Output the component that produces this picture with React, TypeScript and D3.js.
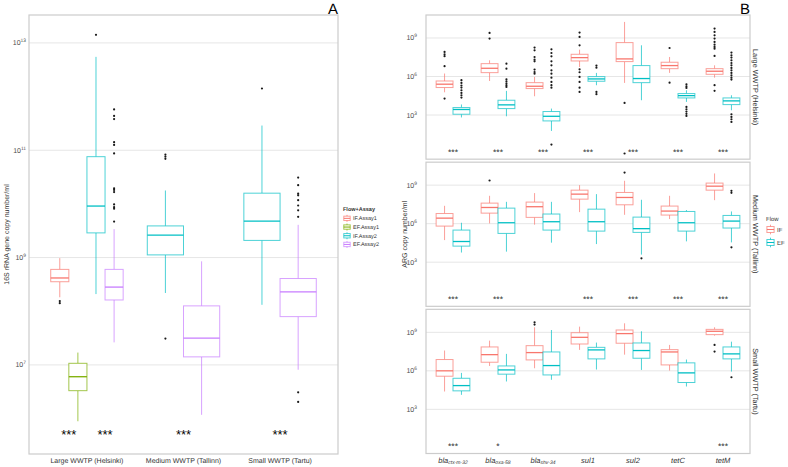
import React from "react";
import * as d3 from "d3";

const W = 788, H = 467;
const FONT = "'Liberation Sans', Arial, sans-serif";

// ---------------- Panel A data ----------------
const sitesA = ["Large WWTP (Helsinki)", "Medium WWTP (Tallinn)", "Small WWTP (Tartu)"];
const groupsA = ["IF.Assay1", "EF.Assay1", "IF.Assay2", "EF.Assay2"];
const colorsA = ["#F8766D", "#7CAE00", "#00BFC4", "#C77CFF"];
const boxSiteA = [0, 0, 0, 0, 1, 1, 2, 2];
const boxGroupA = [0, 1, 2, 3, 2, 3, 2, 3];
// log10 copies/ml: [lower whisker, q1, median, q3, upper whisker]
const statsA = [
  [8.26, 8.55, 8.62, 8.78, 8.99],
  [5.95, 6.52, 6.78, 7.03, 7.23],
  [8.32, 9.46, 9.96, 10.88, 12.74],
  [7.42, 8.21, 8.45, 8.78, 9.53],
  [8.34, 9.05, 9.42, 9.59, 10.25],
  [6.07, 7.15, 7.5, 8.1, 8.93],
  [8.12, 9.32, 9.68, 10.2, 11.46],
  [6.91, 7.9, 8.36, 8.61, 9.61],
];
const outliersA = [
  [8.19, 8.15],
  [],
  [13.15],
  [11.76, 11.64, 11.58, 11.15, 11.1, 10.94, 10.29, 10.26, 10.22, 9.99, 9.94, 9.91, 9.67],
  [10.92, 10.88, 10.84, 7.49],
  [],
  [12.15],
  [10.49, 10.35, 10.19, 10.16, 10.07, 9.97, 9.88, 9.76, 6.49, 6.31],
];
const starSiteA = [0, 0, 1, 2];
const starPairA = [[0, 1], [2, 3], [2, 3], [2, 3]];
const starTextA = ["***", "***", "***", "***"];
const starLevelA = 5.76;
const ticksA = [7, 9, 11, 13];

// ---------------- Panel B data ----------------
const sitesB = ["Large WWTP (Helsinki)", "Medium WWTP (Tallinn)", "Small WWTP (Tartu)"];
const genesB = ["bla_ctx-m-32", "bla_oxa-58", "bla_shv-34", "sul1", "sul2", "tetC", "tetM"];
const geneBaseB = ["bla", "bla", "bla", "sul1", "sul2", "tetC", "tetM"];
const geneSubB = ["ctx-m-32", "oxa-58", "shv-34", "", "", "", ""];
const flowsB = ["IF", "EF"];
const colorsB = ["#F8766D", "#00BFC4"];
const ticksB = [3, 6, 9];

const ifLarge = [
  [4.77, 5.14, 5.4, 5.65, 6.23],
  [5.65, 6.3, 6.64, 7.0, 7.26],
  [4.46, 5.06, 5.24, 5.52, 5.97],
  [6.74, 7.21, 7.47, 7.73, 8.09],
  [5.5, 7.16, 7.37, 8.64, 10.25],
  [6.28, 6.61, 6.85, 7.11, 7.52],
  [5.91, 6.17, 6.41, 6.61, 6.87],
];
const efLarge = [
  [2.81, 3.06, 3.43, 3.58, 3.82],
  [2.9, 3.5, 3.79, 4.15, 4.88],
  [1.76, 2.54, 2.9, 3.27, 3.5],
  [5.32, 5.63, 5.81, 5.99, 6.28],
  [4.15, 5.52, 5.84, 6.85, 8.43],
  [4.02, 4.33, 4.51, 4.67, 4.93],
  [3.37, 3.81, 4.1, 4.33, 4.54],
];
const ifLargeOut = [
  [7.91, 7.73, 7.58, 6.8, 4.28],
  [9.39, 8.95],
  [8.25, 8.04, 7.52, 7.31, 7.18, 6.54, 6.35, 6.22],
  [9.42, 9.08, 8.43, 6.56, 6.33, 5.97, 5.58, 5.13, 4.8],
  [3.94, 0.0],
  [8.22, 5.52],
  [9.73, 9.47, 9.21, 8.95, 8.69, 8.48, 8.3, 8.17, 7.6, 5.32, 4.88],
];
const efLargeOut = [
  [5.71, 5.5, 5.3, 5.14, 4.93, 4.72, 4.54, 4.36],
  [7.0, 6.61, 5.78, 5.63, 5.47, 5.32, 5.19],
  [8.12, 7.83, 7.57, 7.18, 6.87, 6.48, 6.22, 5.91, 5.58, 5.32, 5.13, 0.7],
  [6.85, 6.69, 4.8, 4.62],
  [],
  [5.39, 5.24, 5.11, 3.63, 3.45, 3.27, 3.09, 2.93],
  [7.86, 7.65, 7.47, 7.26, 7.05, 6.87, 6.67, 6.48, 6.28, 6.09, 5.91, 5.76, 3.06, 2.85, 2.67, 2.46],
];

const ifMedium = [
  [4.72, 5.81, 6.43, 6.79, 7.39],
  [6.02, 6.82, 7.26, 7.6, 8.17],
  [5.92, 6.49, 7.32, 7.68, 8.38],
  [6.9, 7.91, 8.3, 8.61, 9.0],
  [6.69, 7.47, 8.04, 8.43, 9.34],
  [6.36, 6.67, 6.98, 7.37, 8.17],
  [7.83, 8.61, 8.92, 9.16, 9.91],
];
const efMedium = [
  [3.75, 4.25, 4.61, 5.5, 6.07],
  [3.82, 5.24, 6.07, 7.21, 7.7],
  [4.52, 5.5, 6.15, 6.75, 7.7],
  [4.41, 5.42, 6.15, 7.13, 8.3],
  [3.59, 5.32, 5.61, 6.51, 7.86],
  [4.62, 5.42, 6.07, 6.95, 7.06],
  [4.54, 5.66, 6.2, 6.64, 6.95],
];
const ifMediumOut = [[], [9.36], [], [], [9.98], [], []];
const efMediumOut = [[], [], [], [], [3.3], [], [8.56, 8.4, 4.16]];

const ifSmall = [
  [4.39, 5.58, 6.0, 6.88, 7.58],
  [6.38, 6.67, 7.26, 7.86, 8.35],
  [6.2, 6.85, 7.42, 7.96, 9.39],
  [7.63, 8.09, 8.61, 8.97, 9.44],
  [7.26, 8.15, 8.9, 9.18, 9.7],
  [6.02, 6.46, 7.47, 7.65, 8.02],
  [8.74, 8.82, 9.08, 9.23, 9.39],
];
const efSmall = [
  [4.13, 4.44, 4.85, 5.42, 5.84],
  [5.17, 5.74, 6.07, 6.38, 7.32],
  [5.3, 5.68, 6.41, 7.47, 9.18],
  [6.1, 6.93, 7.63, 7.83, 8.2],
  [6.07, 6.98, 7.58, 8.17, 9.08],
  [4.78, 5.09, 5.84, 6.62, 6.88],
  [5.94, 6.93, 7.32, 7.86, 8.27],
];
const ifSmallOut = [[], [], [9.78, 9.6], [], [], [], [8.02, 7.5]];
const efSmallOut = [[], [], [], [], [], [], [5.5]];

const starsLarge = ["***", "***", "***", "***", "***", "***", "***"];
const starsMedium = ["***", "***", "", "***", "***", "***", "***"];
const starsSmall = ["***", "*", "", "", "", "", "***"];
const starLevelB = 0.25;

const statsB = [[ifLarge, efLarge], [ifMedium, efMedium], [ifSmall, efSmall]];
const outB = [[ifLargeOut, efLargeOut], [ifMediumOut, efMediumOut], [ifSmallOut, efSmallOut]];
const starsB = [starsLarge, starsMedium, starsSmall];

// ---------------- helpers ----------------
function Box({ cx, w, s, y, color, out }: any) {
  const [lo, q1, md, q3, hi] = s.map((v: number) => y(Math.pow(10, v)));
  return (
    <g>
      <line x1={cx} x2={cx} y1={hi} y2={q3} stroke={color} strokeOpacity={0.7} strokeWidth={1} />
      <line x1={cx} x2={cx} y1={q1} y2={lo} stroke={color} strokeOpacity={0.7} strokeWidth={1} />
      <rect x={cx - w / 2} y={q3} width={w} height={Math.max(0.5, q1 - q3)} fill="#fff" stroke={color} strokeOpacity={0.7} strokeWidth={1} />
      <line x1={cx - w / 2} x2={cx + w / 2} y1={md} y2={md} stroke={color} strokeWidth={1.3} />
      {out.map((o: number, i: number) => (
        <circle key={i} cx={cx} cy={y(Math.pow(10, o))} r={1.1} fill="#1a1a1a" />
      ))}
    </g>
  );
}

function Pow({ x, y, exp, anchor = "end", size = 7 }: any) {
  return (
    <text x={x} y={y} textAnchor={anchor} fontSize={size} fill="#4d4d4d" fontFamily={FONT}>
      10<tspan dy={-3} fontSize={size * 0.7}>{exp}</tspan>
    </text>
  );
}

function LegendKey({ x, y, w, h, color }: any) {
  const cx = x + w / 2;
  return (
    <g>
      <rect x={x} y={y} width={w} height={h} fill="#fff" />
      <line x1={cx} x2={cx} y1={y + h * 0.1} y2={y + h * 0.9} stroke={color} strokeOpacity={0.7} />
      <rect x={x + w * 0.1} y={y + h * 0.25} width={w * 0.8} height={h * 0.5} fill="#fff" stroke={color} strokeOpacity={0.7} />
      <line x1={x + w * 0.1} x2={x + w * 0.9} y1={y + h / 2} y2={y + h / 2} stroke={color} />
    </g>
  );
}

export default function App() {
  // Panel A layout
  const ax0 = 29, ax1 = 338, ay0 = 15, ay1 = 454;
  const xA = d3.scalePoint<string>().domain(sitesA).range([ax0, ax1]).padding(0.6);
  const yA = d3.scaleLog().domain([Math.pow(10, 5.34), Math.pow(10, 13.52)]).range([ay1, ay0]);
  const dodgeA = 0.75 * xA.step();

  const boxPosA = statsA.map((_, i) => {
    const site = boxSiteA[i];
    const members = boxSiteA.map((s, j) => (s === site ? j : -1)).filter((j) => j >= 0);
    const idx = members.indexOf(i);
    const n = members.length;
    const w = dodgeA / n;
    const cx = (xA(sitesA[site]) as number) - dodgeA / 2 + (idx + 0.5) * w;
    return { cx, w };
  });
  const findBox = (site: number, g: number) =>
    boxPosA[boxSiteA.findIndex((s, j) => s === site && boxGroupA[j] === g)];

  // Panel B layout
  const bx0 = 426, bx1 = 750, by0 = 15, by1 = 453.5, gap = 3;
  const fh = (by1 - by0 - 2 * gap) / 3;
  const xB = d3.scalePoint<string>().domain(genesB).range([bx0, bx1]).padding(0.6);
  const dodgeB = 0.75 * xB.step();
  const wB = dodgeB / 2;
  const yBs = sitesB.map((_, f) => {
    const top = by0 + f * (fh + gap);
    return d3.scaleLog().domain([Math.pow(10, -0.44), Math.pow(10, 10.79)]).range([top + fh, top]);
  });

  return (
    <div style={{ position: "absolute", left: 0, top: 0 }}>
      <svg width={W} height={H} style={{ display: "block", background: "#fff" }} textRendering="geometricPrecision">
        {/* ===== Panel A ===== */}
        {ticksA.map((t) => (
          <line key={t} x1={ax0} x2={ax1} y1={yA(Math.pow(10, t))} y2={yA(Math.pow(10, t))} stroke="#e6e6e6" strokeWidth={1} />
        ))}
        {statsA.map((s, i) => (
          <Box key={i} cx={boxPosA[i].cx} w={boxPosA[i].w} s={s} y={yA} color={colorsA[boxGroupA[i]]} out={outliersA[i]} />
        ))}
        {starSiteA.map((site, i) => {
          const a = findBox(site, starPairA[i][0]);
          const b = findBox(site, starPairA[i][1]);
          return (
            <text key={i} x={(a.cx + b.cx) / 2} y={yA(Math.pow(10, starLevelA))} dy="0.55em" textAnchor="middle" fontSize={13} fontFamily={FONT} fill="#000">
              {starTextA[i]}
            </text>
          );
        })}
        <rect x={ax0} y={ay0} width={ax1 - ax0} height={ay1 - ay0} fill="none" stroke="#cccccc" strokeWidth={1.2} />
        {ticksA.map((t) => (
          <Pow key={t} x={ax0 - 3} y={yA(Math.pow(10, t)) + 2.5} exp={t} />
        ))}
        {sitesA.map((s) => (
          <text key={s} x={xA(s)} y={463} textAnchor="middle" fontSize={7} fill="#333" fontFamily={FONT}>{s}</text>
        ))}
        <text transform={`translate(9,${(ay0 + ay1) / 2}) rotate(-90)`} textAnchor="middle" fontSize={7} fill="#333" fontFamily={FONT}>
          16S rRNA gene copy number/ml
        </text>
        <text x={ax1} y={14} textAnchor="end" fontSize={15} fontFamily={FONT} fill="#000">A</text>

        {/* Legend A */}
        <text x={343} y={211} fontSize={5.5} fontWeight="bold" fill="#333" fontFamily={FONT}>Flow+Assay</text>
        {groupsA.map((g, i) => (
          <g key={g}>
            <LegendKey x={343} y={214 + i * 8.7} w={8} h={8.7} color={colorsA[i]} />
            <text x={353} y={214 + i * 8.7 + 6.2} fontSize={5.5} fill="#333" fontFamily={FONT}>{g}</text>
          </g>
        ))}

        {/* ===== Panel B ===== */}
        {sitesB.map((site, f) => {
          const y = yBs[f];
          const top = by0 + f * (fh + gap);
          return (
            <g key={site}>
              {ticksB.map((t) => (
                <line key={t} x1={bx0} x2={bx1} y1={y(Math.pow(10, t))} y2={y(Math.pow(10, t))} stroke="#e6e6e6" strokeWidth={1} />
              ))}
              {genesB.map((g, gi) =>
                flowsB.map((fl, k) => (
                  <Box key={g + fl} cx={(xB(g) as number) - dodgeB / 2 + (k + 0.5) * wB} w={wB} s={statsB[f][k][gi]} y={y} color={colorsB[k]} out={outB[f][k][gi]} />
                ))
              )}
              {genesB.map((g, gi) =>
                starsB[f][gi] ? (
                  <text key={"s" + g} x={xB(g)} y={y(Math.pow(10, starLevelB))} dy="0.55em" textAnchor="middle" fontSize={8.5} fontFamily={FONT} fill="#222">
                    {starsB[f][gi]}
                  </text>
                ) : null
              )}
              <rect x={bx0} y={top} width={bx1 - bx0} height={fh} fill="none" stroke="#cccccc" strokeWidth={1.2} />
              {ticksB.map((t) => (
                <Pow key={t} x={bx0 - 9} y={y(Math.pow(10, t)) + 2.5} exp={t} />
              ))}
              <text transform={`translate(753,${top + fh / 2}) rotate(90)`} textAnchor="middle" fontSize={7.3} fill="#333" fontFamily={FONT}>
                {site}
              </text>
            </g>
          );
        })}
        {genesB.map((g, gi) => (
          <text key={g} x={xB(g)} y={462.5} textAnchor="middle" fontSize={7.5} fontStyle="italic" fill="#333" fontFamily={FONT}>
            {geneBaseB[gi]}
            {geneSubB[gi] ? <tspan dy={1.5} fontSize={5} fill="#333">{geneSubB[gi]}</tspan> : null}
          </text>
        ))}
        <text transform={`translate(407,${(by0 + by1) / 2}) rotate(-90)`} textAnchor="middle" fontSize={7} fill="#333" fontFamily={FONT}>
          ARG copy number/ml
        </text>
        <text x={bx1} y={14} textAnchor="end" fontSize={15} fontFamily={FONT} fill="#000">B</text>

        {/* Legend B */}
        <text x={766} y={221} fontSize={6} fill="#333" fontFamily={FONT}>Flow</text>
        {flowsB.map((fl, i) => (
          <g key={fl}>
            <LegendKey x={766} y={223.5 + i * 13} w={9} h={12} color={colorsB[i]} />
            <text x={777} y={223.5 + i * 13 + 8} fontSize={6} fill="#333" fontFamily={FONT}>{fl}</text>
          </g>
        ))}
      </svg>
    </div>
  );
}
